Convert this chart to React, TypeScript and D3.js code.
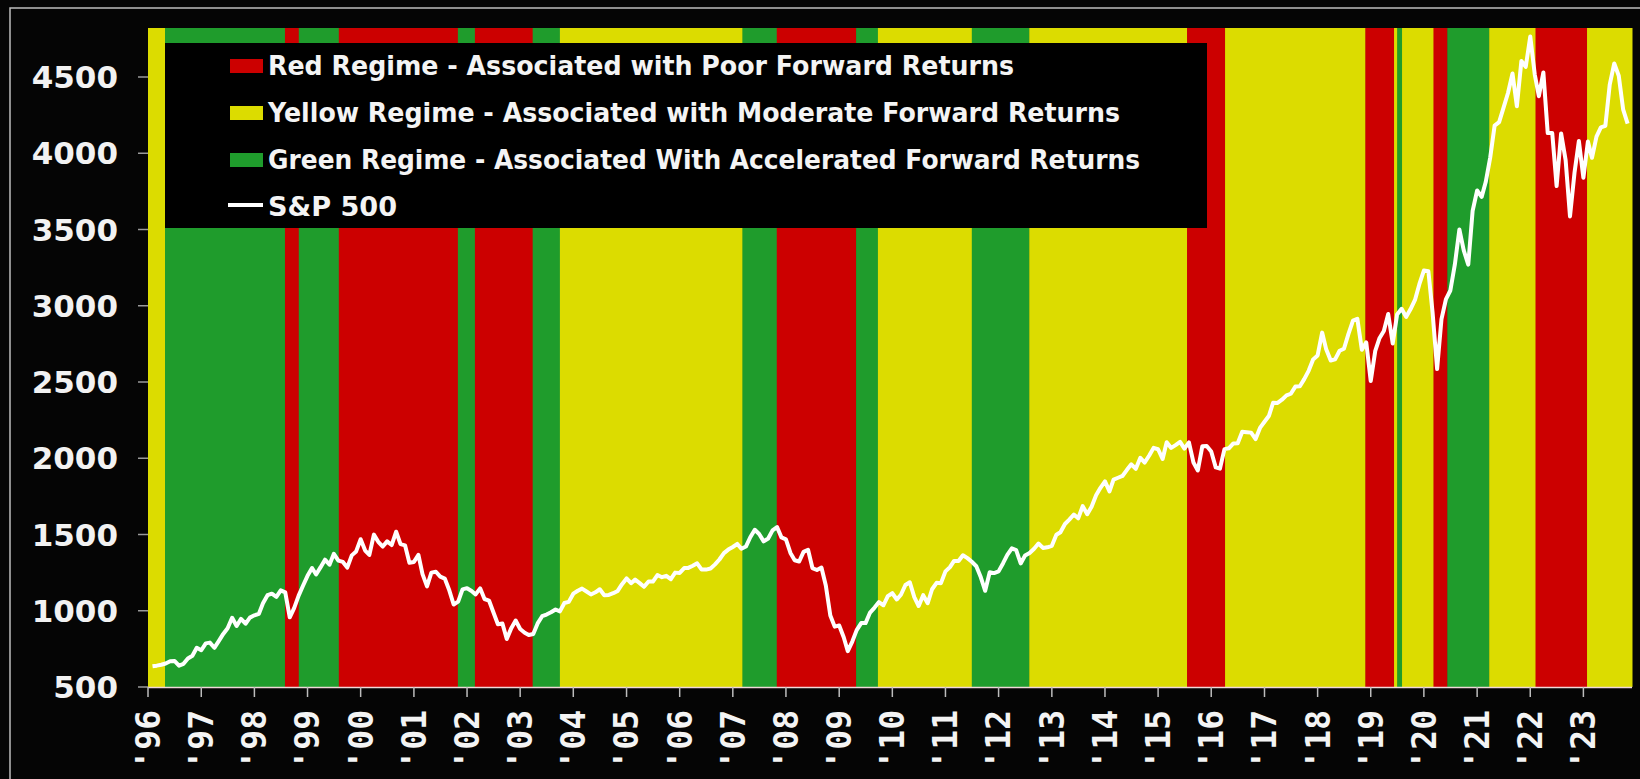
import React, { useEffect } from "react";
import * as d3 from "d3";

// ---------- DATA ----------
// S&P 500 month-end closes, Jan 1996 .. Oct 2023
const spxStart = "1996-01";
const spx1996_2000 = [
  636, 640, 646, 654, 669, 671, 640, 652, 687, 705, 757, 741,
  786, 791, 757, 801, 848, 885, 954, 900, 947, 915, 955, 970,
  980, 1049, 1102, 1112, 1091, 1134, 1121, 957, 1017, 1099, 1164, 1229,
  1280, 1238, 1286, 1335, 1302, 1373, 1329, 1320, 1283, 1363, 1389, 1469,
  1395, 1366, 1499, 1452, 1421, 1455, 1431, 1518, 1437, 1429, 1315, 1320,
];
const spx2001_2005 = [
  1366, 1240, 1160, 1250, 1256, 1224, 1211, 1134, 1041, 1060, 1140, 1148,
  1130, 1107, 1147, 1077, 1067, 990, 912, 916, 815, 886, 936, 880,
  856, 841, 848, 917, 964, 975, 990, 1008, 996, 1051, 1058, 1112,
  1131, 1145, 1126, 1107, 1121, 1141, 1102, 1104, 1115, 1130, 1174, 1212,
  1181, 1204, 1181, 1157, 1192, 1191, 1234, 1220, 1229, 1207, 1250, 1248,
];
const spx2006_2010 = [
  1280, 1281, 1295, 1311, 1270, 1270, 1277, 1304, 1336, 1378, 1401, 1418,
  1438, 1407, 1421, 1482, 1531, 1503, 1455, 1474, 1527, 1549, 1481, 1468,
  1379, 1331, 1323, 1386, 1400, 1280, 1267, 1283, 1166, 969, 896, 903,
  826, 735, 798, 873, 919, 919, 988, 1021, 1057, 1036, 1096, 1115,
  1074, 1105, 1169, 1187, 1089, 1031, 1102, 1049, 1141, 1183, 1181, 1258,
];
const spx2011_2015 = [
  1286, 1327, 1326, 1364, 1345, 1321, 1292, 1219, 1131, 1253, 1247, 1258,
  1312, 1366, 1409, 1398, 1310, 1362, 1379, 1407, 1441, 1412, 1416, 1426,
  1498, 1515, 1569, 1598, 1631, 1606, 1686, 1633, 1682, 1757, 1806, 1848,
  1783, 1860, 1872, 1884, 1924, 1960, 1931, 2003, 1972, 2018, 2068, 2059,
  1995, 2105, 2068, 2086, 2107, 2063, 2104, 1972, 1920, 2079, 2080, 2044,
];
const spx2016_2020 = [
  1940, 1932, 2060, 2065, 2097, 2099, 2174, 2171, 2168, 2126, 2199, 2239,
  2279, 2364, 2363, 2384, 2412, 2423, 2470, 2472, 2519, 2575, 2648, 2674,
  2824, 2714, 2641, 2648, 2705, 2718, 2816, 2902, 2914, 2712, 2760, 2507,
  2704, 2785, 2834, 2946, 2752, 2942, 2980, 2927, 2977, 3038, 3141, 3231,
  3226, 2954, 2585, 2912, 3044, 3100, 3271, 3500, 3363, 3270, 3622, 3756,
];
const spx2021_2023 = [
  3714, 3811, 3973, 4181, 4204, 4298, 4395, 4523, 4308, 4605, 4567, 4766,
  4516, 4374, 4530, 4132, 4132, 3785, 4130, 3955, 3586, 3872, 4080, 3840,
  4077, 3970, 4109, 4170, 4180, 4450, 4589, 4508, 4288, 4194,
];

// Regime bands (start dates) and their colours
const regimeStarts = [
  "1996-01-01", "1996-04-27", "1998-07-30", "1998-11-02", "1999-08-04",
  "2001-10-30", "2002-02-24", "2003-03-28", "2003-10-01", "2007-03-08",
  "2007-10-30", "2009-04-27", "2009-09-24", "2011-07-01", "2012-07-30",
  "2015-07-19", "2016-04-05", "2018-11-25", "2019-06-10", "2019-07-02",
  "2019-08-04", "2020-03-07", "2020-06-10", "2021-03-25", "2022-02-06",
  "2023-01-26",
];
const regimeKinds = [
  "yellow", "green", "red", "green", "red",
  "green", "red", "green", "yellow", "green",
  "red", "green", "yellow", "green", "yellow",
  "red", "yellow", "red", "yellow", "green",
  "yellow", "red", "green", "yellow", "red",
  "yellow",
];
const regimeEnd = "2023-12-01";

const yTicks = [500, 1000, 1500, 2000, 2500, 3000, 3500, 4000, 4500];
const xTickYears = [
  1996, 1997, 1998, 1999, 2000, 2001, 2002, 2003, 2004, 2005, 2006, 2007, 2008, 2009,
  2010, 2011, 2012, 2013, 2014, 2015, 2016, 2017, 2018, 2019, 2020, 2021, 2022, 2023,
];

const legendLabels = [
  "Red Regime - Associated with Poor Forward Returns",
  "Yellow Regime - Associated with Moderate Forward Returns",
  "Green Regime - Associated With Accelerated Forward Returns",
  "S&P 500",
];
const legendKinds = ["red", "yellow", "green", "line"];

// ---------- STYLE ----------
const COLORS: Record<string, string> = {
  red: "#cc0000",
  yellow: "#dcdc00",
  green: "#1f9c2c",
};
const BG = "#050505";
const W = 1640;
const H = 779;
const PLOT = { left: 148, right: 1632, top: 28, bottom: 687 };
const legendTextLen = [746, 852, 872, 129];

export default function App() {
  useEffect(() => {
    document.body.style.margin = "0";
    document.body.style.background = BG;
  }, []);

  const parse = d3.timeParse("%Y-%m-%d");
  const x = d3
    .scaleTime()
    .domain([new Date(1996, 0, 1), new Date(2023, 11, 1)])
    .range([PLOT.left, PLOT.right]);
  const y = d3.scaleLinear().domain([500, 4500]).range([PLOT.bottom, 77]);

  const values = [
    ...spx1996_2000, ...spx2001_2005, ...spx2006_2010,
    ...spx2011_2015, ...spx2016_2020, ...spx2021_2023,
  ];
  const start = d3.timeParse("%Y-%m")(spxStart) as Date;
  const points = values.map((v, i) => ({
    date: d3.timeMonth.offset(start, i + 1), // month-end
    value: v,
  }));
  const line = d3
    .line<{ date: Date; value: number }>()
    .x((d) => x(d.date))
    .y((d) => y(d.value));

  const bands = regimeStarts.map((s, i) => {
    const a = parse(s) as Date;
    const b = parse(i + 1 < regimeStarts.length ? regimeStarts[i + 1] : regimeEnd) as Date;
    return { x0: x(a), x1: x(b), kind: regimeKinds[i] };
  });

  const labelFont = "'DejaVu Sans', Verdana, sans-serif";
  const monoFont = "'DejaVu Sans Mono', 'Liberation Mono', monospace";

  return (
    <svg width={W} height={H} style={{ display: "block", background: BG }}>
      <rect x={0} y={0} width={W} height={H} fill={BG} />
      {/* outer frame */}
      <rect x={10} y={8} width={W} height={H + 20} fill="none" stroke="#bdbdbd" strokeWidth={1.5} />

      {/* regime bands */}
      {bands.map((b, i) => (
        <rect
          key={i}
          x={b.x0}
          y={PLOT.top}
          width={Math.max(0, b.x1 - b.x0) + 0.5}
          height={PLOT.bottom - PLOT.top}
          fill={COLORS[b.kind]}
        />
      ))}

      {/* legend */}
      <rect x={165} y={43} width={1042} height={185} fill="#000" />
      {legendLabels.map((lab, i) => {
        const cy = 66 + i * 47;
        const k = legendKinds[i];
        return (
          <g key={lab}>
            {k === "line" ? (
              <line x1={228} x2={263} y1={cy - 2} y2={cy - 2} stroke="#fff" strokeWidth={4} />
            ) : (
              <rect x={230} y={cy - 7} width={33} height={14} fill={COLORS[k]} />
            )}
            <text
              x={268}
              y={cy + 9}
              fill="#f4f4f4"
              fontFamily={labelFont}
              fontWeight="bold"
              fontSize={27}
              textLength={legendTextLen[i]}
              lengthAdjust="spacingAndGlyphs"
            >
              {lab}
            </text>
          </g>
        );
      })}

      {/* S&P 500 line */}
      <path d={line(points) || ""} fill="none" stroke="#ffffff" strokeWidth={4} strokeLinejoin="round" />

      {/* y axis */}
      {yTicks.map((t) => (
        <g key={t}>
          <line x1={138} x2={PLOT.left} y1={y(t)} y2={y(t)} stroke="#9a9a9a" strokeWidth={1.5} />
          <text
            x={118}
            y={y(t)}
            dy="0.36em"
            textAnchor="end"
            fill="#f2f2f2"
            fontFamily={labelFont}
            fontWeight="bold"
            fontSize={31}
          >
            {t}
          </text>
        </g>
      ))}

      {/* x axis */}
      <line x1={PLOT.left} x2={PLOT.right} y1={PLOT.bottom + 0.5} y2={PLOT.bottom + 0.5} stroke="#f0d8d8" strokeWidth={1.5} />
      {xTickYears.map((yr) => {
        const px = x(new Date(yr, 0, 1));
        return (
          <g key={yr}>
            <line x1={px} x2={px} y1={PLOT.bottom} y2={PLOT.bottom + 10} stroke="#bdbdbd" strokeWidth={1.5} />
            <text
              transform={`translate(${px},${710}) rotate(-90)`}
              textAnchor="end"
              dy="0.36em"
              fill="#f4f4f4"
              fontFamily={monoFont}
              fontWeight="bold"
              fontSize={33}
            >
              {"'" + String(yr).slice(2)}
            </text>
          </g>
        );
      })}
    </svg>
  );
}
